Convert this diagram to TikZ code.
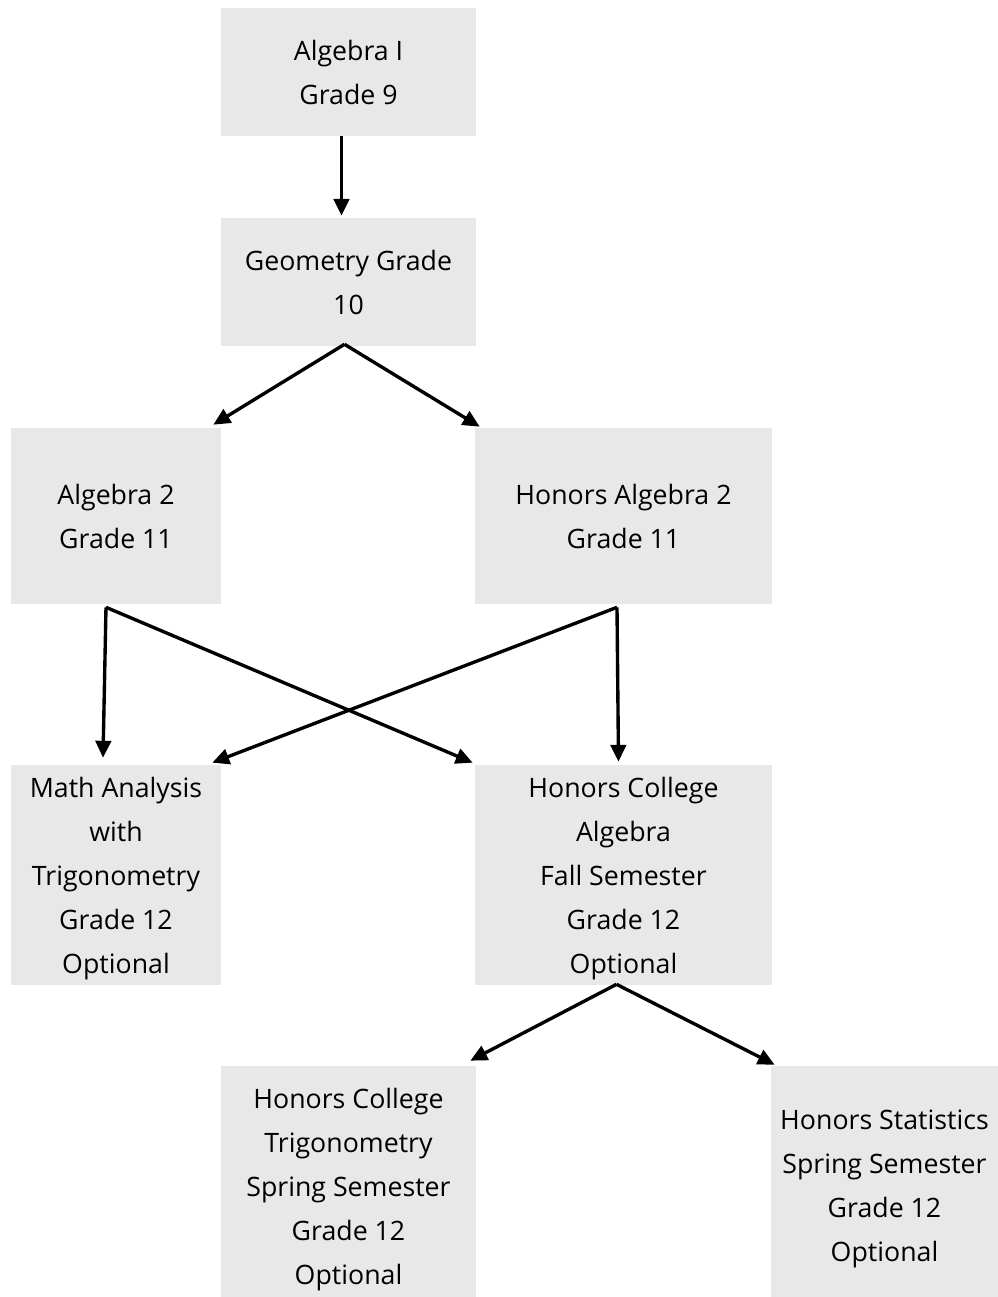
\documentclass[tikz,border=0pt]{standalone}
\usepackage{fontspec}
\setmainfont{Open Sans}
\usetikzlibrary{arrows.meta, calc}
\definecolor{boxgray}{RGB}{232,232,232}

\begin{document}
\begin{tikzpicture}[x=0.025cm, y=-0.025cm,
        course/.style={fill=boxgray, draw=none, align=center, inner sep=0pt, text depth=0pt,
            font=\fontsize{19}{31.3}\selectfont},
        link/.style={line width=2.4pt, -{Triangle[length=12pt,width=11pt]}}]
        \useasboundingbox (0,0) rectangle (998,1297);

        \node[course, minimum width=6.375cm, minimum height=3.2cm] (alg1) at (348.5,72) {Algebra I\\Grade 9};
        \node[course, minimum width=6.375cm, minimum height=3.2cm] (geo) at (348.5,282) {Geometry Grade\\10};
        \node[course, minimum width=5.25cm, minimum height=4.4cm] (alg2) at (116,516) {Algebra 2\\Grade 11};
        \node[course, minimum width=7.425cm, minimum height=4.4cm] (hon2) at (623.5,516) {Honors Algebra 2\\Grade 11};
        \node[course, minimum width=5.25cm, minimum height=5.5cm] (math) at (116,875) {Math Analysis\\with\\Trigonometry\\Grade 12\\Optional};
        \node[course, minimum width=7.425cm, minimum height=5.5cm] (hca) at (623.5,875) {Honors College\\Algebra\\Fall Semester\\Grade 12\\Optional};
        \node[course, minimum width=6.375cm, minimum height=6cm] (trig) at (348.5,1186) {Honors College\\Trigonometry\\Spring Semester\\Grade 12\\Optional};
        \node[course, minimum width=5.675cm, minimum height=6cm] (stats) at (884.5,1186) {Honors Statistics\\Spring Semester\\Grade 12\\Optional};

        % arrows leave a little off the middle of each box
        \coordinate (alg1out) at ($(alg1.south)+(-7,0)$);
        \coordinate (geoout) at ($(geo.south)+(-4,-2)$);
        \coordinate (alg2out) at ($(alg2.south)+(-10,3)$);
        \coordinate (hon2out) at ($(hon2.south)+(-6.5,3)$);
        \coordinate (hcaout) at ($(hca.south)+(-7,-1)$);

        \draw[link] (alg1out) -- ($(geo.north)+(-7,-2)$);

        \draw[link] (geoout) -- ($(alg2.north east)+(-8,-3)$);
        \draw[link] (geoout) -- ($(hon2.north west)+(5,-1)$);

        \draw[link] (alg2out) -- ($(math.north)+(-13,-7)$);
        \draw[link] (alg2out) -- ($(hca.north west)+(-2,-2)$);
        \draw[link] (hon2out) -- ($(hca.north)+(-5,-3)$);
        \draw[link] (hon2out) -- ($(math.north east)+(-9,-2)$);

        \draw[link] (hcaout) -- ($(trig.north east)+(-6,-5)$);
        \draw[link] (hcaout) -- ($(stats.north west)+(4,-1)$);
\end{tikzpicture}
\end{document}
